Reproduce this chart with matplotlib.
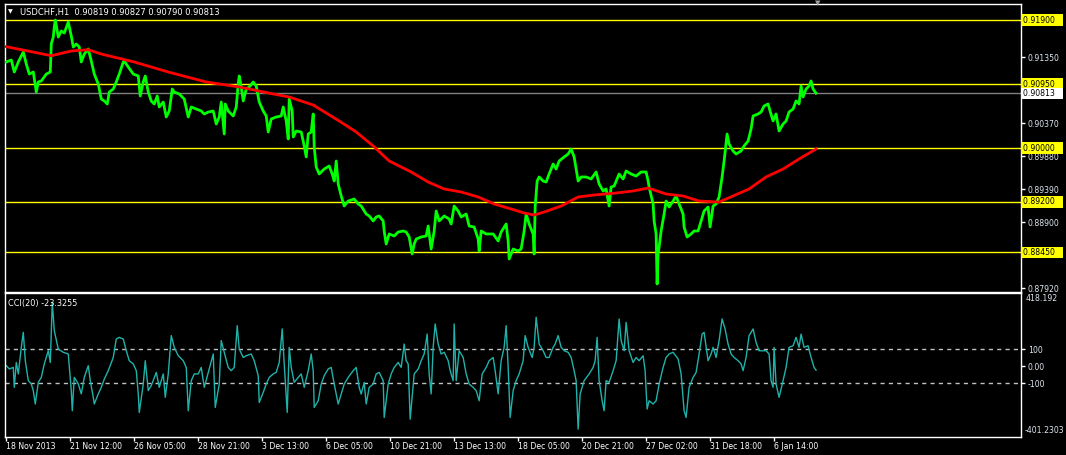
import matplotlib.pyplot as plt
from matplotlib.transforms import blended_transform_factory

# hourly bars (index counted from the first visible bar), close prices
bars = [0, 5, 8, 12, 17, 20, 23, 27, 30, 32, 35, 40, 44, 45, 47, 48, 49, 52, 55, 58,
        62, 65, 67, 70, 73, 75, 78, 82, 85, 88, 92, 95, 98, 101, 103, 107, 110, 113, 117, 118,
        122, 127, 132, 134, 137, 139, 142, 145, 148, 151, 153, 157, 160, 163, 166, 168, 173, 178, 182, 185,
        190, 195, 198, 202, 207, 210, 213, 215, 218, 219, 222, 227, 230, 232, 233, 235, 237, 240, 243, 247,
        250, 253, 257, 260, 262, 265, 270, 275, 277, 280, 282, 283, 286, 287, 290, 295, 298, 300, 302, 305,
        307, 308, 310, 313, 318, 323, 326, 328, 330, 332, 335, 338, 342, 348, 352, 355, 360, 363, 367, 370,
        373, 377, 378, 380, 383, 388, 392, 397, 400, 403, 406, 408, 410, 415, 420, 422, 425, 428, 430, 433,
        438, 443, 445, 448, 452, 455, 460, 463, 468, 472, 473, 475, 480, 487, 492, 495, 500, 502, 503, 507,
        512, 515, 518, 520, 523, 527, 528, 529, 531, 533, 537, 540, 543, 547, 550, 553, 558, 562, 565, 568,
        572, 575, 580, 585, 590, 593, 597, 600, 603, 605, 608, 613, 617, 620, 625, 630, 635, 640, 642, 643,
        647, 648, 650, 651, 652, 653, 655, 658, 660, 663, 667, 670, 673, 677, 678, 681, 685, 688, 692, 695,
        698, 702, 704, 707, 710, 713, 716, 718, 721, 723, 727, 730, 735, 738, 742, 745, 747, 752, 755, 758,
        762, 764, 767, 770, 773, 777, 780, 783, 787, 790, 793, 795, 797, 800, 803, 805, 807, 810]
close = [0.91277, 0.91306, 0.91128, 0.91277, 0.91425, 0.91247, 0.91098, 0.91128, 0.90831, 0.90980,
         0.90995, 0.91098, 0.91128, 0.91544, 0.91648, 0.91796, 0.91900, 0.91648, 0.91737, 0.91707,
         0.91870, 0.91663, 0.91499, 0.91544, 0.91499, 0.91277, 0.91395, 0.91470, 0.91291, 0.91098,
         0.90950, 0.90727, 0.90698, 0.90653, 0.90831, 0.90876, 0.90980, 0.91098, 0.91277, 0.91291,
         0.91202, 0.91098, 0.91069, 0.90772, 0.90980, 0.91069, 0.90831, 0.90698, 0.90653, 0.90772,
         0.90609, 0.90683, 0.90460, 0.90549, 0.90876, 0.90831, 0.90802, 0.90727, 0.90460, 0.90609,
         0.90579, 0.90549, 0.90505, 0.90534, 0.90549, 0.90356, 0.90460, 0.90683, 0.90208, 0.90653,
         0.90549, 0.90475, 0.90609, 0.90950, 0.91069, 0.90906, 0.90698, 0.90876, 0.90906, 0.90980,
         0.90920, 0.90683, 0.90549, 0.90475, 0.90238, 0.90431, 0.90460, 0.90475, 0.90609, 0.90401,
         0.90134, 0.90727, 0.90549, 0.90163, 0.90252, 0.90238, 0.90030, 0.89867, 0.90208, 0.90238,
         0.90505, 0.90015, 0.89718, 0.89614, 0.89688, 0.89733, 0.89614, 0.89510, 0.89807, 0.89466,
         0.89288, 0.89139, 0.89213, 0.89243, 0.89169, 0.89139, 0.89020, 0.88991, 0.88917, 0.88976,
         0.88991, 0.88917, 0.88768, 0.88575, 0.88724, 0.88694, 0.88753, 0.88768, 0.88753, 0.88679,
         0.88427, 0.88575, 0.88649, 0.88679, 0.88694, 0.88842, 0.88501, 0.88768, 0.89065, 0.88917,
         0.88991, 0.88946, 0.88872, 0.89139, 0.89065, 0.88976, 0.89020, 0.88842, 0.88827, 0.88649,
         0.88471, 0.88768, 0.88724, 0.88724, 0.88620, 0.88753, 0.88872, 0.88620, 0.88353, 0.88501,
         0.88471, 0.88501, 0.88768, 0.89020, 0.88872, 0.88724, 0.88427, 0.89124, 0.89510, 0.89570,
         0.89510, 0.89495, 0.89614, 0.89763, 0.89688, 0.89807, 0.89867, 0.89911, 0.89985, 0.89867,
         0.89510, 0.89570, 0.89570, 0.89540, 0.89644, 0.89466, 0.89362, 0.89392, 0.89139, 0.89421,
         0.89436, 0.89614, 0.89540, 0.89659, 0.89614, 0.89584, 0.89644, 0.89644, 0.89510, 0.89421,
         0.89169, 0.88917, 0.88724, 0.87981, 0.88427, 0.88531, 0.88768, 0.89020, 0.89213, 0.89124,
         0.89213, 0.89288, 0.89169, 0.89020, 0.88827, 0.88679, 0.88724, 0.88768, 0.88768, 0.88917,
         0.89065, 0.89124, 0.88827, 0.89139, 0.89169, 0.89273, 0.89570, 0.89807, 0.90208, 0.90059,
         0.89956, 0.89911, 0.89956, 0.90030, 0.90104, 0.90282, 0.90475, 0.90505, 0.90534, 0.90624,
         0.90653, 0.90549, 0.90401, 0.90505, 0.90252, 0.90356, 0.90401, 0.90534, 0.90579, 0.90698,
         0.90653, 0.90920, 0.90757, 0.90876, 0.90920, 0.90995, 0.90876, 0.90813]

# moving average (red)
ma_bars = [0, 45, 65, 82, 95, 128, 162, 200, 233, 267, 283, 307, 333, 350, 367, 383, 405, 422, 438, 455,
           472, 488, 505, 518, 528, 538, 555, 572, 588, 610, 627, 642, 660, 677, 693, 713, 727, 743, 760, 777,
           793, 810]
ma = [0.91504, 0.91370, 0.91440, 0.91459, 0.91395, 0.91277, 0.91128, 0.90980, 0.90906, 0.90802,
      0.90757, 0.90638, 0.90401, 0.90238, 0.90030, 0.89807, 0.89644, 0.89495, 0.89392, 0.89347,
      0.89273, 0.89169, 0.89095, 0.89035, 0.89006, 0.89050, 0.89139, 0.89273, 0.89302, 0.89332,
      0.89362, 0.89406, 0.89317, 0.89288, 0.89213, 0.89198, 0.89288, 0.89392, 0.89570, 0.89688,
      0.89837, 0.89985]

# CCI(20)
cci_bars = [0, 3, 7, 8, 10, 12, 15, 17, 19, 22, 25, 27, 29, 32, 35, 38, 42, 44, 46, 48,
            52, 57, 62, 65, 66, 68, 72, 75, 78, 82, 84, 87, 88, 92, 95, 98, 102, 107, 110, 113,
            117, 120, 123, 127, 130, 132, 133, 137, 139, 142, 145, 150, 153, 157, 159, 162, 165, 168, 172, 177,
            180, 182, 185, 188, 192, 195, 198, 202, 207, 209, 213, 215, 218, 222, 225, 228, 231, 233, 237, 240,
            245, 248, 252, 253, 257, 260, 263, 267, 270, 273, 276, 278, 281, 283, 285, 288, 292, 295, 298, 302,
            305, 307, 308, 312, 315, 318, 322, 325, 328, 332, 335, 338, 342, 347, 350, 353, 355, 358, 360, 363,
            367, 370, 373, 377, 378, 382, 385, 388, 392, 395, 398, 400, 402, 404, 408, 412, 415, 418, 421, 423,
            425, 427, 429, 432, 435, 438, 442, 444, 447, 448, 450, 453, 457, 460, 463, 467, 470, 473, 476, 480,
            483, 487, 489, 492, 495, 498, 500, 502, 504, 507, 510, 513, 517, 519, 522, 526, 528, 530, 533, 537,
            540, 543, 547, 549, 552, 555, 558, 562, 565, 568, 570, 572, 574, 578, 583, 587, 589, 591, 593, 596,
            598, 600, 603, 607, 610, 613, 615, 618, 620, 623, 627, 630, 633, 637, 639, 641, 643, 647, 650, 653,
            657, 660, 663, 667, 672, 675, 678, 680, 683, 687, 690, 693, 696, 698, 702, 705, 707, 710, 713, 716,
            719, 722, 725, 728, 732, 735, 737, 740, 743, 747, 750, 753, 757, 760, 763, 765, 767, 768, 770, 773,
            777, 780, 783, 787, 790, 793, 795, 798, 802, 805, 808, 810]
cci = [3, -16, -7, -123, 22, -45, 110, 197, 32, -84, -103, -142, -220, -94, -65, 13, 90, 22, 370, 207,
       100, 81, 71, -142, -259, -65, -103, -161, -65, 3, -84, -181, -220, -161, -123, -75, -26, 51, 158, 168,
       158, 90, 32, 13, -26, -161, -269, -104, 32, -142, -113, -36, -123, -45, -181, -45, 178, 110, 61, 32,
       -7, -259, -84, -45, -45, -7, -123, -36, 71, -240, -104, 149, 81, -7, -26, -7, 236, 100, 51, 61,
       71, 32, -55, -211, -152, -104, -65, -45, -36, 22, 217, 13, -269, 110, -7, -94, -65, -45, -123, -26,
       71, -26, -240, -201, -104, -55, -16, -7, -104, -220, -162, -104, -65, -26, -7, -123, -162, -94, -220, -123,
       -104, -45, -36, -84, -298, -104, -45, -7, 22, -7, 129, 32, 13, -308, -45, -16, 32, 71, 187, -45,
       -161, 110, 246, 129, 71, 81, 32, -26, -84, 246, -84, 90, 51, -45, -104, -123, -142, -201, -45, -7,
       32, 51, -26, -161, 32, 110, 236, -7, -298, -142, -84, -45, 32, 178, 110, 51, 110, 285, 129, 90,
       51, 51, 110, 129, 178, 110, 90, 81, 51, -26, -84, -366, -162, -84, -45, -7, 32, 168, -84, -201,
       -259, -84, -94, -26, 32, 275, 149, 90, 255, 90, 22, 51, 32, 61, -26, -249, -201, -220, -201, -104,
       -7, 51, 71, 81, 42, -45, -259, -298, -123, -65, -36, 71, 187, 197, 32, 71, 110, 51, 149, 275,
       217, 129, 71, 51, 32, 13, -26, 51, 178, 217, 139, 90, 90, 90, 71, -84, -123, 110, -104, -181,
       -84, -7, 110, 119, 168, 110, 187, 110, 119, 51, -7, -23]

tick_bars = [0, 64, 128, 192, 256, 320, 384, 448, 512, 576, 640, 704, 768]
tick_labels = ["18 Nov 2013", "21 Nov 12:00", "26 Nov 05:00", "28 Nov 21:00", "3 Dec 13:00",
               "6 Dec 05:00", "10 Dec 21:00", "13 Dec 13:00", "18 Dec 05:00", "20 Dec 21:00",
               "27 Dec 02:00", "31 Dec 18:00", "6 Jan 14:00"]
# grid prices; the labels of 0.91840, 0.90860 and 0.88410 sit under the level boxes
price_ticks = [0.91840, 0.91350, 0.90860, 0.90370, 0.89880, 0.89390, 0.88900, 0.88410, 0.87920]
hidden_ticks = [0.91840, 0.90860, 0.88410]
levels = [0.91900, 0.90950, 0.90000, 0.89200, 0.88450]
last_price = 0.90813

W, H = 1066, 455
FS = 5.6
fig = plt.figure(figsize=(W / 100, H / 100), dpi=100, facecolor="black")
ax1 = fig.add_axes([5 / W, 1 - 292 / H, 1016 / W, 288 / H])
ax2 = fig.add_axes([5 / W, 1 - 436.5 / H, 1016 / W, 143.5 / H])

for ax in (ax1, ax2):
    ax.set_facecolor("black")
    for s in ax.spines.values():
        s.set_color("white")
        s.set_linewidth(1)
    ax.set_xlim(-1.3, 1015)
    ax.yaxis.tick_right()
    ax.tick_params(axis="y", direction="out", length=3, width=1, color="white",
                   labelcolor="#dde6f0", labelsize=FS, pad=2)

# price panel
for lv in levels:
    ax1.axhline(lv, color="#ffff00", lw=1, zorder=1)
ax1.axhline(last_price, color="#808080", lw=1, zorder=1)
ax1.plot(bars, close, color="#00ff00", lw=2, zorder=3)
ax1.plot(ma_bars, ma, color="#ff0000", lw=2, zorder=4)
ax1.set_ylim(0.878626, 0.921375)
ax1.set_yticks(price_ticks)
ax1.set_yticklabels(["" if v in hidden_ticks else f"{v:.5f}" for v in price_ticks])
ax1.set_xticks([])

tr1 = blended_transform_factory(ax1.transAxes, ax1.transData)
for lv in levels:
    ax1.text(1.0015, lv, f"{lv:.5f}   ", transform=tr1, fontsize=FS, color="black",
             va="center", ha="left", zorder=10, clip_on=False,
             bbox=dict(boxstyle="square,pad=0.15", fc="#ffff00", ec="none"))
ax1.text(1.0015, last_price, f"{last_price:.5f}   ", transform=tr1, fontsize=FS, color="black",
         va="center", ha="left", zorder=10, clip_on=False,
         bbox=dict(boxstyle="square,pad=0.15", fc="white", ec="none"))

# CCI panel
ax2.axhline(100, color="#c0c0c0", lw=1, ls=(0, (3, 3)))
ax2.axhline(-100, color="#c0c0c0", lw=1, ls=(0, (3, 3)))
ax2.plot(cci_bars, cci, color="#20b2aa", lw=1)
ax2.set_ylim(-409, 426)
ax2.set_yticks([100, 0, -100])
ax2.set_yticklabels(["100", "0.00", "-100"])
tr2 = blended_transform_factory(ax2.transAxes, ax2.transData)
ax2.text(1.004, 418.192, "418.192", transform=tr2, fontsize=FS, color="#dde6f0",
         va="top", ha="left", clip_on=False)
ax2.text(1.004, -401.2303, "-401.2303", transform=tr2, fontsize=FS, color="#dde6f0",
         va="bottom", ha="left", clip_on=False)
ax2.text(0.003, 0.955, "CCI(20) -23.3255", transform=ax2.transAxes, fontsize=FS + 0.3,
         color="white", va="top", ha="left")

ax2.set_xticks(tick_bars)
ax2.set_xticklabels(tick_labels, ha="left")
ax2.tick_params(axis="x", direction="out", length=3, width=1, color="white",
                labelcolor="white", labelsize=FS, pad=1)

# header
fig.text(8 / W, 1 - 12 / H, "\u25bc", fontsize=4.5, color="white", va="center", ha="left")
fig.text(20 / W, 1 - 12 / H, "USDCHF,H1  0.90819 0.90827 0.90790 0.90813",
         fontsize=6, color="white", va="center", ha="left")
fig.text(818 / W, 1 - 3 / H, "\u25bc", fontsize=5, color="#a0a0a0", va="center", ha="center")

fig.savefig("out.png", dpi=100, facecolor="black")
